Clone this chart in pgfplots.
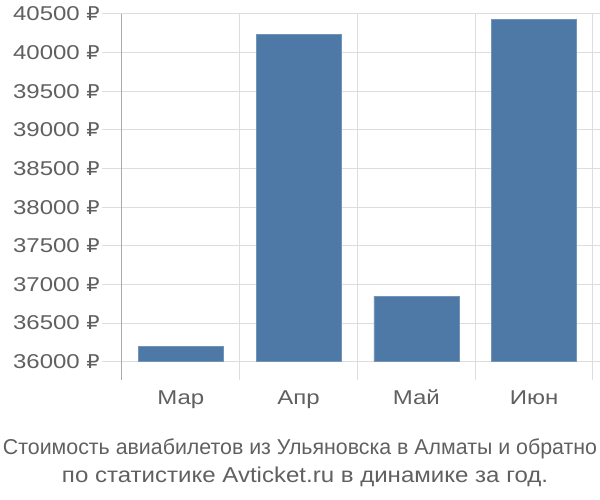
\documentclass[border=0pt]{standalone}
\usepackage{fontspec}
\setmainfont{Liberation Sans}
\newfontfamily\tickfont[FakeStretch=1.2]{Liberation Sans}
\newfontfamily\rubfont[FakeStretch=1.1]{DejaVu Sans}
\usepackage{pgfplots}
\pgfplotsset{compat=1.18}
\definecolor{barblue}{HTML}{4E79A7}
\definecolor{gridgray}{HTML}{DDDDDD}
\definecolor{axisgray}{HTML}{AAAAAA}
\definecolor{textgray}{HTML}{606060}

\begin{document}
\begin{tikzpicture}
	\path[use as bounding box] (-122pt,-120pt) rectangle (478pt,380pt);
	\begin{axis}[
		at={(0pt,0pt)}, anchor=south west,
		scale only axis,
		width=471pt, height=366pt,
		xmin=0.5, xmax=4.5,
		ymin=-237, ymax=4500,
		y filter/.expression={y-36000},  % bars start at 36000
		ybar, bar width=0.72,
		axis line style={draw=none},
		xtick={1,2,3,4},
		xticklabels={Мар, Апр, Май, Июн},
		minor xtick={1.5,2.5,3.5,4.5},
		xminorgrids,
		minor grid style={gridgray, line width=1pt},
		major x tick style={draw=none},
		minor x tick style={draw=none},
		ytick={0,500,...,4500},
		scaled y ticks=false,
		ymajorgrids,
		major grid style={gridgray, line width=1pt},
		tick align=outside,
		major tick length=20pt,
		y tick style={gridgray, line width=1pt},
		yticklabel={\pgfmathtruncatemacro\v{\tick/10+3600}\v0 {\rubfont\fontsize{19}{24}\selectfont ₽}},
		yticklabel style={font=\tickfont\fontsize{20}{24}\selectfont, text=textgray, inner sep=0pt, xshift=-2pt},
		xticklabel style={font=\tickfont\fontsize{20}{24}\selectfont, text=textgray, inner sep=0pt,
			text height=14.3pt, text depth=4pt, yshift=10pt},
		clip=false,
		]
		\addplot[fill=barblue, draw=barblue!80!white, line width=0.5pt]
		coordinates {(1,36200) (2,40240) (3,36850) (4,40435)};
		\draw[axisgray, line width=1pt] (rel axis cs:0,0) -- (rel axis cs:0,1);
	\end{axis}
	% title, squeezed into the width as in the reference
	\node[anchor=base, inner sep=0pt, text=textgray] at (178pt,-75pt)
		{\resizebox{594pt}{\height}{\fontsize{21.5}{27}\selectfont
			Стоимость авиабилетов из Ульяновска в Алматы и обратно}};
	\node[anchor=base, inner sep=0pt, text=textgray] at (183pt,-103pt)
		{\resizebox{486pt}{\height}{\fontsize{21.5}{27}\selectfont
			по статистике Avticket.ru в динамике за год.}};
\end{tikzpicture}
\end{document}
